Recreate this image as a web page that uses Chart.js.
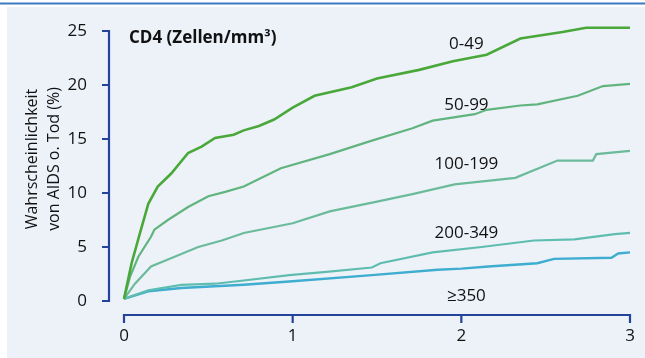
<!DOCTYPE html>
<html>
<head>
<meta charset="utf-8">
<script src="https://cdn.jsdelivr.net/npm/chart.js@4"></script>
<style>
    html, body { margin: 0; padding: 0; background: #ffffff; }
    #chart { display: block; }
</style>
</head>
<body>
<canvas id="chart" width="645" height="358"></canvas>
<script>
// CD4 groups (series names)
const groupNames = ['0-49', '50-99', '100-199', '200-349', '≥350'];

// years after start / probability of AIDS or death in %
const t049 = [0, 0.045, 0.095, 0.144, 0.2, 0.28, 0.38, 0.46, 0.54, 0.65, 0.71, 0.8, 0.89, 1.0, 1.13, 1.35, 1.5, 1.75, 1.95, 2.15, 2.35, 2.6, 2.74, 3.0];
const v049 = [0.2, 3.5, 6.3, 9.0, 10.6, 11.8, 13.7, 14.3, 15.1, 15.4, 15.8, 16.2, 16.8, 17.9, 19.0, 19.8, 20.6, 21.4, 22.2, 22.8, 24.3, 24.9, 25.3, 25.3];

const t5099 = [0, 0.036, 0.085, 0.16, 0.18, 0.26, 0.38, 0.5, 0.6, 0.71, 0.93, 1.22, 1.46, 1.71, 1.83, 2.08, 2.15, 2.35, 2.45, 2.69, 2.84, 3.0];
const v5099 = [0.2, 2.25, 4.1, 5.95, 6.6, 7.5, 8.7, 9.7, 10.1, 10.6, 12.3, 13.6, 14.8, 16.0, 16.7, 17.3, 17.7, 18.1, 18.2, 19.0, 19.9, 20.1];

const t100199 = [0, 0.065, 0.16, 0.3, 0.44, 0.58, 0.71, 1.0, 1.22, 1.5, 1.71, 1.96, 2.32, 2.57, 2.78, 2.8, 3.0];
const v100199 = [0.2, 1.6, 3.2, 4.1, 5.0, 5.6, 6.3, 7.2, 8.3, 9.2, 9.9, 10.8, 11.4, 13.0, 13.0, 13.6, 13.9];

const t200349 = [0, 0.144, 0.34, 0.54, 0.71, 0.98, 1.2, 1.47, 1.52, 1.83, 2.12, 2.43, 2.67, 2.91, 3.0];
const v200349 = [0.2, 1.0, 1.5, 1.6, 1.9, 2.4, 2.7, 3.1, 3.5, 4.5, 5.0, 5.6, 5.7, 6.2, 6.3];

const t350 = [0, 0.144, 0.34, 0.71, 0.98, 1.47, 1.86, 2.0, 2.16, 2.45, 2.55, 2.89, 2.93, 3.0];
const v350 = [0.2, 0.9, 1.2, 1.5, 1.8, 2.4, 2.9, 3.0, 3.2, 3.5, 3.9, 4.0, 4.4, 4.5];

// axis ticks
const xTicks = [0, 1, 2, 3];
const yTicks = [0, 5, 10, 15, 20, 25];

// texts
const yTitleLines = ['Wahrscheinlichkeit', 'von AIDS o. Tod (%)'];
const heading = 'CD4 (Zellen/mm³)';

const toPoints = (ts, vs) => ts.map((t, i) => ({ x: t, y: vs[i] }));

const seriesTimes = [t049, t5099, t100199, t200349, t350];
const seriesValues = [v049, v5099, v100199, v200349, v350];
const lineColors = ['#4aa83a', '#62b47e', '#6bbb9b', '#5fbdb0', '#3eadcf'];
const lineWidths = [2.6, 2.2, 2.2, 2.2, 2.4];

const FONT = "'Open Sans', 'Noto Sans', sans-serif";
const AXIS_COLOR = '#24439a';

// background panel + top rule
const backgroundPlugin = {
    id: 'panelBackground',
    beforeDraw(chart) {
        const ctx = chart.ctx;
        ctx.save();
        ctx.fillStyle = '#ffffff';
        ctx.fillRect(0, 0, chart.width, chart.height);
        ctx.fillStyle = '#edf2f9';
        ctx.fillRect(7, 7, chart.width - 7, chart.height - 7);
        ctx.fillStyle = '#3b7bbf';
        ctx.fillRect(0, 2.5, chart.width, 2);
        ctx.restore();
    }
};

// detached axes drawn from the scales
const axesPlugin = {
    id: 'detachedAxes',
    afterDraw(chart) {
        const ctx = chart.ctx;
        const xs = chart.scales.x;
        const ys = chart.scales.y;
        const axX = chart.chartArea.left - 15;
        const axY = chart.chartArea.bottom + 14;
        ctx.save();
        ctx.strokeStyle = AXIS_COLOR;
        ctx.lineWidth = 2.2;
        ctx.lineCap = 'butt';

        // y axis
        ctx.beginPath();
        ctx.moveTo(axX, ys.getPixelForValue(yTicks[yTicks.length - 1]) - 1);
        ctx.lineTo(axX, ys.getPixelForValue(yTicks[0]) + 1);
        yTicks.forEach(v => {
            const py = ys.getPixelForValue(v);
            ctx.moveTo(axX + 1, py);
            ctx.lineTo(axX - 7, py);
        });
        ctx.stroke();

        // x axis
        ctx.beginPath();
        ctx.moveTo(xs.getPixelForValue(xTicks[0]) - 1, axY);
        ctx.lineTo(xs.getPixelForValue(xTicks[xTicks.length - 1]) + 1, axY);
        xTicks.forEach(v => {
            const px = xs.getPixelForValue(v);
            ctx.moveTo(px, axY - 1);
            ctx.lineTo(px, axY + 8);
        });
        ctx.stroke();
        ctx.restore();
    }
};

// heading, y title and curve labels
const labelsPlugin = {
    id: 'curveLabels',
    afterDatasetsDraw(chart, args, opts) {
        const ctx = chart.ctx;
        const xs = chart.scales.x;
        const ys = chart.scales.y;
        ctx.save();
        ctx.fillStyle = '#111111';
        ctx.textBaseline = 'middle';

        ctx.font = `bold 17px ${FONT}`;
        ctx.textAlign = 'left';
        ctx.fillText(heading, chart.chartArea.left + 5, 38);

        ctx.font = `17px ${FONT}`;
        ctx.textAlign = 'center';
        opts.anchors.forEach((a, i) => {
            ctx.fillText(groupNames[i], xs.getPixelForValue(a.x), ys.getPixelForValue(a.y));
        });

        // rotated y axis title, two lines
        ctx.font = `16px ${FONT}`;
        ctx.translate(0, 159);
        ctx.rotate(-Math.PI / 2);
        yTitleLines.forEach((line, i) => {
            ctx.fillText(line, 0, 32 + i * 22);
        });
        ctx.restore();
    }
};

const ctx = document.getElementById('chart').getContext('2d');
const chart = new Chart(ctx, {
    type: 'line',
    data: {
        datasets: groupNames.map((name, i) => ({
            label: name,
            data: toPoints(seriesTimes[i], seriesValues[i]),
            borderColor: lineColors[i],
            borderWidth: lineWidths[i],
            pointRadius: 0,
            tension: 0,
            fill: false,
            clip: 8
        }))
    },
    options: {
        responsive: false,
        animation: false,
        devicePixelRatio: 1,
        layout: {
            padding: { top: 31, right: 15, bottom: 0, left: 0 }
        },
        scales: {
            x: {
                type: 'linear',
                min: 0,
                max: 3,
                afterBuildTicks: (scale) => { scale.ticks = xTicks.map(v => ({ value: v })); },
                afterFit: (scale) => {
                    scale.height = 57;
                    scale.paddingLeft = 0;
                    scale.paddingRight = 0;
                },
                grid: { display: false },
                border: { display: false },
                ticks: {
                    padding: 17,
                    color: '#111111',
                    font: { family: FONT, size: 17 }
                }
            },
            y: {
                min: 0,
                max: 25,
                afterBuildTicks: (scale) => { scale.ticks = yTicks.map(v => ({ value: v })); },
                afterFit: (scale) => {
                    scale.width = 124;
                    scale.paddingTop = 0;
                    scale.paddingBottom = 0;
                },
                grid: { display: false },
                border: { display: false },
                ticks: {
                    padding: 29,
                    color: '#111111',
                    font: { family: FONT, size: 17 }
                }
            }
        },
        plugins: {
            legend: { display: false },
            tooltip: { enabled: false },
            curveLabels: {
                anchors: [
                    { x: 2.03, y: 23.8 },
                    { x: 2.03, y: 18.1 },
                    { x: 2.03, y: 12.7 },
                    { x: 2.03, y: 6.3 },
                    { x: 2.03, y: 0.45 }
                ]
            }
        }
    },
    plugins: [backgroundPlugin, axesPlugin, labelsPlugin]
});
</script>
</body>
</html>
